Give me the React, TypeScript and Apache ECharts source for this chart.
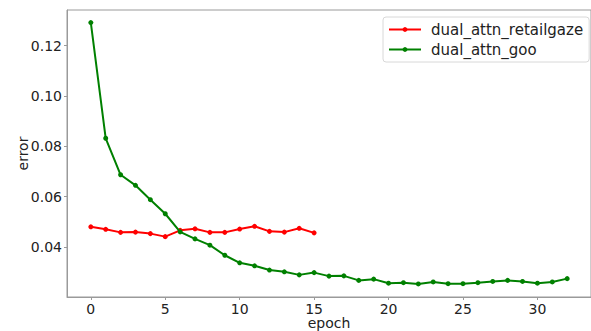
import React, { useEffect, useRef } from "react";
import * as echarts from "echarts";

const epochsRetail = [0, 1, 2, 3, 4, 5, 6, 7, 8, 9, 10, 11, 12, 13, 14, 15];
const errorRetail = [0.048, 0.047, 0.0458, 0.0459, 0.0453, 0.0441, 0.0466, 0.0472, 0.0458, 0.0458, 0.0471, 0.0482, 0.0462, 0.0459, 0.0474, 0.0456];

const epochsGoo = [0, 1, 2, 3, 4, 5, 6, 7, 8, 9, 10, 11, 12, 13, 14, 15, 16, 17, 18, 19, 20, 21, 22, 23, 24, 25, 26, 27, 28, 29, 30, 31, 32];
const errorGoo = [
  0.1292, 0.0832, 0.0687, 0.0645, 0.0588, 0.0532, 0.046, 0.0432, 0.0407, 0.0367, 0.0337,
  0.0325, 0.0308, 0.0301, 0.0289, 0.0298, 0.0284, 0.0285, 0.0267, 0.0272, 0.0256, 0.0258,
  0.0253, 0.0261, 0.0254, 0.0254, 0.0258, 0.0263, 0.0267, 0.0263, 0.0256, 0.0261, 0.0274,
];

const xTicks = [0, 5, 10, 15, 20, 25, 30];
const yTicks = [0.04, 0.06, 0.08, 0.1, 0.12];

const seriesNames = ["dual_attn_retailgaze", "dual_attn_goo"];

export default function App() {
  const ref = useRef<HTMLDivElement>(null);
  useEffect(() => {
    if (!ref.current) return;
    const chart = echarts.init(ref.current, null, { renderer: "svg" });
    const font = "DejaVu Sans";
    const axisColor = "#9a9a9a";
    chart.setOption({
      animation: false,
      textStyle: { fontFamily: font },
      grid: {
        left: 67,
        top: 10,
        right: 0,
        bottom: 34,
        containLabel: false,
        outerBoundsMode: "none",
        show: true,
        borderColor: axisColor,
        borderWidth: 1,
        backgroundColor: "transparent",
      },
      legend: {
        orient: "vertical",
        left: 383,
        top: 17,
        padding: [5, 6, 5, 5],
        itemGap: 5,
        itemWidth: 32,
        itemHeight: 6,
        backgroundColor: "#fff",
        borderColor: "#d8d8d8",
        borderWidth: 1,
        borderRadius: 3,
        textStyle: { fontFamily: font, fontSize: 15, color: "#222", padding: [0, 0, 0, 5] },
        data: seriesNames,
      },
      xAxis: {
        type: "value",
        min: -1.6,
        max: 33.6,
        name: "epoch",
        nameLocation: "middle",
        nameGap: 19,
        nameMoveOverlap: false,
        nameTextStyle: { fontFamily: font, fontSize: 14, color: "#222", lineHeight: 14 },
        splitLine: { show: false },
        axisLine: { show: true, onZero: false, lineStyle: { color: axisColor, width: 1 } },
        axisTick: { show: true, length: 3, lineStyle: { color: axisColor }, customValues: xTicks },
        axisLabel: {
          fontFamily: font,
          fontSize: 14,
          lineHeight: 12,
          color: "#222",
          margin: 6,
          customValues: xTicks,
        },
      },
      yAxis: {
        type: "value",
        min: 0.0201,
        max: 0.1342,
        name: "error",
        nameLocation: "middle",
        nameGap: 37,
        nameMoveOverlap: false,
        nameTextStyle: { fontFamily: font, fontSize: 14, color: "#222" },
        splitLine: { show: false },
        axisLine: { show: true, onZero: false, lineStyle: { color: axisColor, width: 1 } },
        axisTick: { show: true, length: 3, lineStyle: { color: axisColor }, customValues: yTicks },
        axisLabel: {
          fontFamily: font,
          fontSize: 14,
          color: "#222",
          margin: 5,
          customValues: yTicks,
          formatter: (v: number) => v.toFixed(2),
        },
      },
      series: [
        {
          name: seriesNames[0],
          type: "line",
          data: epochsRetail.map((e, i) => [e, errorRetail[i]]),
          symbol: "circle",
          symbolSize: 5,
          lineStyle: { color: "#ff0000", width: 2 },
          itemStyle: { color: "#ff0000" },
          z: 3,
        },
        {
          name: seriesNames[1],
          type: "line",
          data: epochsGoo.map((e, i) => [e, errorGoo[i]]),
          symbol: "circle",
          symbolSize: 5,
          lineStyle: { color: "#008000", width: 2 },
          itemStyle: { color: "#008000" },
          z: 4,
        },
      ],
    });
    return () => chart.dispose();
  }, []);
  return (
    <div
      ref={ref}
      style={{ position: "absolute", left: 0, top: 0, width: 591, height: 331, background: "#fff" }}
    />
  );
}
